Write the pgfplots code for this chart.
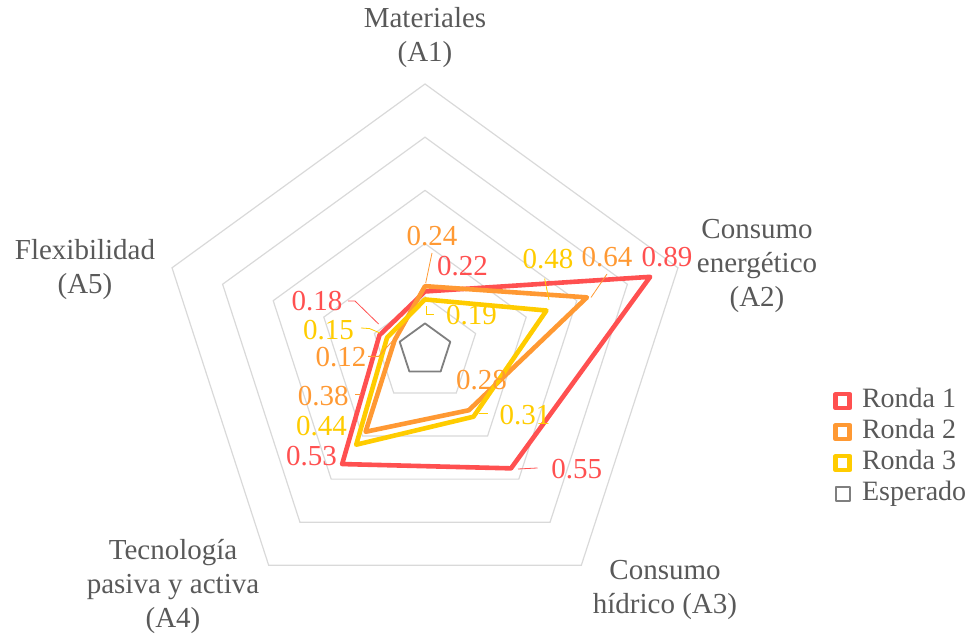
\documentclass[border=0pt]{standalone}
\usepackage{fontspec}
\setmainfont{Liberation Serif}
\usepackage{pgfplots}
\pgfplotsset{compat=1.18}
\usepackage{pgfplotstable}
\usepgfplotslibrary{polar}

\definecolor{rojo}{HTML}{FF5050}
\definecolor{naranja}{HTML}{FF9933}
\definecolor{amarillo}{HTML}{FFCC00}
\definecolor{rejilla}{HTML}{D9D9D9}
\definecolor{texto}{HTML}{595959}
\definecolor{esperado}{HTML}{7F7F7F}

% angulo de cada eje (A1 arriba, sentido horario)
\pgfplotstableread{
ang  r1    r2    r3    esp
90   0.22  0.24  0.19  0.10
18   0.89  0.64  0.48  0.10
306  0.55  0.28  0.31  0.10
234  0.53  0.38  0.44  0.10
162  0.18  0.12  0.15  0.10
}\datos

\begin{document}
\begin{tikzpicture}[font=\fontsize{14.5}{17}\selectfont]
\begin{polaraxis}[
    scale only axis,
    width=266pt, height=266pt,
    ymin=0, ymax=1,
    hide axis,
    xtick=\empty, ytick=\empty,
    clip=false,
    legend image code/.code={\draw[#1, line join=round] (0pt,-3.5pt) rectangle (7pt,3.5pt);},
    legend style={
        at={(axis description cs:1.267,0.3165)}, anchor=west,
        draw=none, fill=none, inner sep=0pt,
        font=\fontsize{14}{16}\selectfont, text=texto,
        row sep=3pt,
        nodes={inner sep=0pt, text height=9.5pt, text depth=3pt},
        cells={anchor=west},
    },
]
\pgfplotsinvokeforeach{0.2,0.4,0.6,0.8,1.0}{
  \addplot[rejilla, line width=0.6pt, forget plot] coordinates {(90,#1) (18,#1) (306,#1) (234,#1) (162,#1)} -- cycle;
}
\addplot[rojo, line width=2.3pt, line join=round] table[x=ang, y=r1] {\datos} -- cycle;
\addlegendentry{\hspace{5pt}Ronda 1}
\addplot[naranja, line width=2.3pt, line join=round] table[x=ang, y=r2] {\datos} -- cycle;
\addlegendentry{\hspace{5pt}Ronda 2}
\addplot[amarillo, line width=2.3pt, line join=round] table[x=ang, y=r3] {\datos} -- cycle;
\addlegendentry{\hspace{5pt}Ronda 3}
\addplot[esperado, line width=0.9pt, line join=round] table[x=ang, y=esp] {\datos} -- cycle;
\addlegendentry{\hspace{5pt}Esperado}
\coordinate (O) at (axis cs:0,0);
\end{polaraxis}

% nombres de los ejes
\begin{scope}[every node/.style={text=texto, align=center, inner sep=0pt}]
\node at ([shift={(0pt,156pt)}]O) {Materiales\\(A1)};
\node at ([shift={(166pt,42pt)}]O) {Consumo\\energético\\(A2)};
\node at ([shift={(120pt,-120pt)}]O) {Consumo\\hídrico (A3)};
\node at ([shift={(-126pt,-118.5pt)}]O) {Tecnología\\pasiva y activa\\(A4)};
\node at ([shift={(-170pt,40pt)}]O) {Flexibilidad\\(A5)};
\end{scope}

% etiquetas de datos
\begin{scope}[every node/.style={inner sep=0pt}]
\node[rojo] at ([shift={(121pt,46.5pt)}]O) {0.89};
\node[naranja] at ([shift={(91pt,46.5pt)}]O) {0.64};
\node[amarillo] at ([shift={(61.5pt,45.5pt)}]O) {0.48};
\node[naranja] at ([shift={(3.5pt,57pt)}]O) {0.24};
\node[rojo] at ([shift={(18.75pt,41.8pt)}]O) {0.22};
\node[amarillo] at ([shift={(23.2pt,17.3pt)}]O) {0.19};
\node[rojo] at ([shift={(-54pt,24.3pt)}]O) {0.18};
\node[amarillo] at ([shift={(-48.2pt,10.2pt)}]O) {0.15};
\node[naranja] at ([shift={(-42pt,-3.5pt)}]O) {0.12};
\node[naranja] at ([shift={(-50.9pt,-22.9pt)}]O) {0.38};
\node[amarillo] at ([shift={(-51.8pt,-38pt)}]O) {0.44};
\node[rojo] at ([shift={(-56.8pt,-52.9pt)}]O) {0.53};
\node[naranja] at ([shift={(28.2pt,-14.8pt)}]O) {0.28};
\node[amarillo] at ([shift={(50pt,-32.7pt)}]O) {0.31};
\node[rojo] at ([shift={(75.9pt,-59.5pt)}]O) {0.55};
\end{scope}

% lineas guia
\begin{scope}[line width=0.4pt]
\draw[naranja] ([shift={(91pt,38pt)}]O) -- ([shift={(83pt,26.25pt)}]O);
\draw[amarillo] ([shift={(59.8pt,35.7pt)}]O) -- ([shift={(62pt,25pt)}]O);
\draw[naranja] ([shift={(3.5pt,48.5pt)}]O) -- ([shift={(0.35pt,33.5pt)}]O);
\draw[amarillo] ([shift={(0.9pt,22pt)}]O) -- ([shift={(0.9pt,18pt)}]O) -- ([shift={(4.5pt,18pt)}]O);
\draw[rojo] ([shift={(-38.5pt,24.5pt)}]O) -- ([shift={(-35pt,24.5pt)}]O) -- ([shift={(-23.2pt,13pt)}]O);
\draw[amarillo] ([shift={(-32pt,11pt)}]O) -- ([shift={(-27.7pt,10.7pt)}]O) -- ([shift={(-22.5pt,8.5pt)}]O);
\draw[naranja] ([shift={(-28.5pt,-3.2pt)}]O) -- ([shift={(-23.2pt,-3.2pt)}]O) -- ([shift={(-16pt,4.8pt)}]O);
\draw[naranja] ([shift={(-34.8pt,-22pt)}]O) -- ([shift={(-32.2pt,-22pt)}]O);
\draw[amarillo] ([shift={(26.8pt,-31.8pt)}]O) -- ([shift={(31.25pt,-31.8pt)}]O);
\draw[rojo] ([shift={(46.5pt,-59.5pt)}]O) -- ([shift={(56.25pt,-59pt)}]O);
\end{scope}

\pgfresetboundingbox
\path ([shift={(-212.5pt,-142.5pt)}]O) rectangle ([shift={(273.5pt,175pt)}]O);
\end{tikzpicture}
\end{document}
